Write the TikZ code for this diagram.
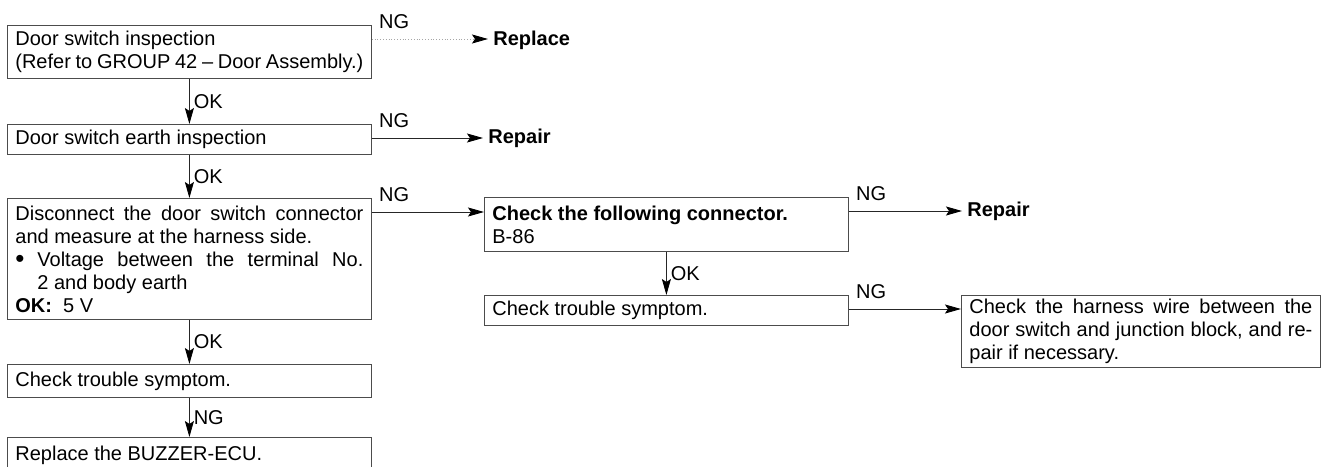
\documentclass[tikz,border=0pt]{standalone}
\usepackage{fontspec}
\setmainfont{Liberation Sans}
\usetikzlibrary{arrows.meta,calc}

\begin{document}
\begin{tikzpicture}[x=0.5pt,y=-0.5pt,
        font=\fontsize{10}{11.5}\selectfont,
        box/.style={draw=black!70, line width=0.4pt, anchor=north west, align=justify, inner xsep=4pt, inner ysep=0pt},
        flow/.style={draw=black!85, line width=0.4pt, -{Stealth[length=8pt,width=4.5pt,inset=1.5pt,black]}},
        faint/.style={draw=black!35, densely dotted},
        tag/.style={inner sep=2pt},
        result/.style={anchor=west, inner xsep=2.5pt, inner ysep=0pt, font=\fontsize{10}{11.5}\selectfont\bfseries}]
    \useasboundingbox (0,0) rectangle (1328,466);
    \clip (0,0) rectangle (1328,466);

    % left column
    \node[box, text width=174pt, minimum height=26.5pt] (b1) at (7,25)
        {Door switch inspection\\(Refer to GROUP 42 -- Door Assembly.)};
    \node[box, text width=174pt, minimum height=15pt] (b2) at (7,124)
        {Door switch earth inspection};
    \node[box, text width=174pt, minimum height=60.5pt] (b3) at (7,198)
        {Disconnect the door switch connector\linebreak
         and measure at the harness side.\\
         \makebox[11pt][l]{\raisebox{-0.6pt}[0pt][0pt]{\fontsize{13}{11.5}\selectfont\textbullet}}Voltage between the terminal No.\linebreak
         \hspace*{11pt}2 and body earth\\
         \textbf{OK:}\ \ 5 V};
    \node[box, text width=174pt, minimum height=16.5pt] (b4) at (7,364)
        {Check trouble symptom.};
    \node[box, text width=174pt, minimum height=18pt] (b5) at (7,437)
        {Replace the BUZZER-ECU.};

    % right part
    \node[box, text width=174pt, minimum height=27pt] (b6) at (484,197)
        {\textbf{Check the following connector.}\\B-86};
    \node[box, text width=174pt, minimum height=15pt] (b7) at (484,295)
        {Check trouble symptom.};
    \node[box, text width=171.5pt, minimum height=36pt] (b8) at (961,295)
        {Check the harness wire between the\linebreak
         door switch and junction block, and re-\linebreak
         pair if necessary.};

    \node[result] (rep1) at (488,40) {Replace};
    \node[result] (rep2) at (483,138) {Repair};
    \node[result] (rep3) at (962,211) {Repair};

    % NG exits
    \foreach \b in {b1,b2,b3,b6,b7} {
        \coordinate (\b ng) at ($(\b.north east)+(0,14)$);
        \node[tag, anchor=base west] at ($(\b.north east)+(3,3)$) {NG};
    }

    \draw[flow, faint] (b1ng) -- (b1ng -| rep1.west);
    \draw[flow] (b2ng) -- (b2ng -| rep2.west);
    \draw[flow] (b3ng) -- (b3ng -| b6.west);
    \draw[flow] (b6ng) -- (b6ng -| rep3.west);
    \draw[flow] (b7ng) -- (b7ng -| b8.west);

    \draw[flow] (b1) -- node[tag, right] {OK} (b2);
    \draw[flow] (b2) -- node[tag, right] {OK} (b3);
    \draw[flow] (b3) -- node[tag, right] {OK} (b4);
    \draw[flow] (b4) -- node[tag, right] {NG} (b5);
    \draw[flow] (b6) -- node[tag, right] {OK} (b7);
\end{tikzpicture}
\end{document}
